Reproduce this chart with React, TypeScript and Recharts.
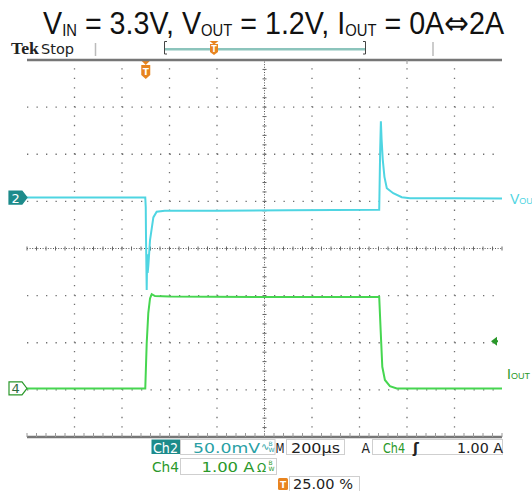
import { LineChart, Line, XAxis, YAxis, ReferenceLine } from "recharts"

// time in µs, trigger at t = 0 (25 % of the 2 ms record)
const timeDomain: [number, number] = [-500, 1500]
const gridTimes = [-300, -100, 100, 300, 700, 900, 1100, 1300]
const centerTime = 500
const gridDivs = [-3, -2, -1, 1, 2, 3]
const minorTimes = Array.from({ length: 51 }, (_, i) => -500 + i * 40)
const minorDivs = Array.from({ length: 41 }, (_, i) => -4 + i * 0.2)

// Ch2: Vout ripple (mV), 50 mV/div, ground marker 1.08 div above centre
const ch2PerDiv = 50
const ch2Pos = 1.08
const voutTime = [-500, -2, 0, 1, 4, 6, 8, 11, 18, 32, 46, 80, 300, 600, 983, 987, 990, 993, 998, 1005, 1015, 1042, 1078, 1113, 1300, 1500]
const voutMv = [0, 0, -10, -40, -98, -60, -80, -72, -45, -21, -15, -14, -14, -13.5, -13, 50, 81, 62, 40, 22, 10, 4.7, 0.4, -0.6, -0.8, -1]

// Ch4: Iout (A), 1 A/div, ground marker 2.97 div below centre
const ch4PerDiv = 1
const ch4Pos = -2.97
const ioutTime = [-500, -2, 4, 10.7, 18, 25, 39, 100, 500, 983, 989, 996, 1007, 1028, 1057, 1200, 1500]
const ioutAmp = [0, 0, 0.96, 1.6, 1.91, 2.0, 1.96, 1.95, 1.94, 1.94, 1.24, 0.46, 0.18, 0.05, 0, 0, 0]
const trigLevel = 1

const voutData = voutTime.map((t, i) => ({ t, v: voutMv[i] }))
const ioutData = ioutTime.map((t, i) => ({ t, a: ioutAmp[i] }))

const FRAME = "#767676"
const DOT = "#6f6f6f"
const CYAN = "#4fd5e2"
const GREEN = "#46d650"
const TEAL_BOX = "#1d8b8b"
const TEAL_TXT = "#2a9fa5"
const GREEN_TXT = "#2a982a"
const ORANGE = "#e8841f"
const MONO = "'DejaVu Sans', sans-serif"
const SANS = "'Liberation Sans', Arial, sans-serif"

const CrossLine = (p: any) => {
    const horiz = Math.abs(p.y1 - p.y2) < 0.5
    const n = horiz ? 50 : 40
    const a = horiz ? Math.min(p.x1, p.x2) : Math.min(p.y1, p.y2)
    const len = horiz ? Math.abs(p.x2 - p.x1) : Math.abs(p.y2 - p.y1)
    const ticks = Array.from({ length: n + 1 }, (_, i) => a + (i * len) / n)
    return (
        <g>
            <line x1={p.x1} y1={p.y1} x2={p.x2} y2={p.y2} stroke="#555" strokeDasharray="1 1.6" />
            {ticks.map((v, i) =>
                horiz ? (
                    <line key={i} x1={v} x2={v} y1={p.y1 - 2} y2={p.y1 + 2} stroke="#666" />
                ) : (
                    <line key={i} y1={v} y2={v} x1={p.x1 - 2} x2={p.x1 + 2} stroke="#666" />
                ),
            )}
        </g>
    )
}

const ChMarker = (p: any) => {
    const x = Math.min(p.x1, p.x2)
    const y = p.y1
    return (
        <g>
            <path
                d={`M${x - 18} ${y - 6.5} h13 l5 6.5 l-5 6.5 h-13 z`}
                fill={p.fill}
                stroke={p.edge}
                strokeWidth={1.2}
            />
            <text x={x - 15.5} y={y + 5} fontSize={13} fontFamily={MONO} fill={p.color}>
                {p.label}
            </text>
        </g>
    )
}

const TrigMark = (p: any) => {
    const x = p.x1
    const top = Math.min(p.y1, p.y2)
    return (
        <g>
            <path d={`M${x - 5} ${top} h10 l-5 5 z`} fill={ORANGE} />
            <path d={`M${x - 4.5} ${top + 5} h9 v10 l-4.5 4 l-4.5 -4 z`} fill={ORANGE} />
            <text x={x} y={top + 15} fontSize={9} fontWeight="bold" fontFamily={MONO} fill="#fff" textAnchor="middle">
                T
            </text>
        </g>
    )
}

const LevelArrow = (p: any) => {
    const x = Math.max(p.x1, p.x2)
    const y = p.y1
    return (
        <g>
            <path d={`M${x - 11} ${y} l6 -4.5 v9 z`} fill={GREEN_TXT} />
            <line x1={x - 6} x2={x - 4} y1={y} y2={y} stroke={GREEN_TXT} strokeWidth={2} />
        </g>
    )
}

const noLabel = () => ""

export default function App() {
    return (
        <div style={{ position: "absolute", left: 0, top: 0, width: 532, height: 491, background: "#fff" }}>
            <LineChart width={532} height={491} data={voutData} margin={{ top: 60, right: 30, bottom: 54, left: 27 }}>
                <XAxis
                    xAxisId="b"
                    dataKey="t"
                    type="number"
                    domain={timeDomain}
                    allowDataOverflow
                    ticks={minorTimes}
                    interval={0}
                    mirror
                    tickSize={4}
                    tickFormatter={noLabel}
                    axisLine={{ stroke: FRAME, strokeWidth: 2.5 }}
                    tickLine={{ stroke: "#999" }}
                />
                <XAxis
                    xAxisId="top"
                    orientation="top"
                    type="number"
                    domain={timeDomain}
                    allowDataOverflow
                    ticks={minorTimes}
                    interval={0}
                    mirror
                    tickSize={4}
                    tickFormatter={noLabel}
                    axisLine={{ stroke: FRAME, strokeWidth: 2.5 }}
                    tickLine={{ stroke: "#999" }}
                />
                <YAxis
                    yAxisId="fl"
                    type="number"
                    domain={[-4, 4]}
                    allowDataOverflow
                    ticks={minorDivs}
                    interval={0}
                    mirror
                    width={0}
                    tickSize={4}
                    tickFormatter={noLabel}
                    axisLine={{ stroke: FRAME, strokeWidth: 2.5 }}
                    tickLine={{ stroke: "#999" }}
                />
                <YAxis
                    yAxisId="fr"
                    orientation="right"
                    type="number"
                    domain={[-4, 4]}
                    allowDataOverflow
                    ticks={minorDivs}
                    interval={0}
                    mirror
                    width={0}
                    tickSize={4}
                    tickFormatter={noLabel}
                    axisLine={{ stroke: FRAME, strokeWidth: 2.5 }}
                    tickLine={{ stroke: "#999" }}
                />
                <YAxis
                    yAxisId="v"
                    hide
                    type="number"
                    allowDataOverflow
                    domain={[(-4 - ch2Pos) * ch2PerDiv, (4 - ch2Pos) * ch2PerDiv]}
                />
                <YAxis
                    yAxisId="i"
                    hide
                    type="number"
                    allowDataOverflow
                    domain={[(-4 - ch4Pos) * ch4PerDiv, (4 - ch4Pos) * ch4PerDiv]}
                />

                {/* graticule */}
                {gridTimes.map((t) => (
                    <ReferenceLine
                        key={`gx${t}`}
                        xAxisId="b"
                        yAxisId="fl"
                        x={t}
                        stroke={DOT}
                        strokeWidth={1.3}
                        strokeDasharray="1.3 8.12"
                    />
                ))}
                {gridDivs.map((d) => (
                    <ReferenceLine
                        key={`gy${d}`}
                        xAxisId="b"
                        yAxisId="fl"
                        y={d}
                        stroke={DOT}
                        strokeWidth={1.3}
                        strokeDasharray="1.3 8.2"
                    />
                ))}
                <ReferenceLine xAxisId="b" yAxisId="fl" x={centerTime} shape={CrossLine} />
                <ReferenceLine xAxisId="b" yAxisId="fl" y={0} shape={CrossLine} />

                <Line
                    xAxisId="b"
                    yAxisId="v"
                    data={voutData}
                    dataKey="v"
                    stroke={CYAN}
                    strokeWidth={2}
                    dot={false}
                    type="linear"
                    isAnimationActive={false}
                />
                <Line
                    xAxisId="b"
                    yAxisId="i"
                    data={ioutData}
                    dataKey="a"
                    stroke={GREEN}
                    strokeWidth={2}
                    dot={false}
                    type="linear"
                    isAnimationActive={false}
                />

                {/* channel ground markers, trigger marks */}
                <ReferenceLine
                    xAxisId="b"
                    yAxisId="v"
                    y={0}
                    shape={(p: any) => <ChMarker {...p} label="2" fill={TEAL_BOX} edge={TEAL_BOX} color="#fff" />}
                />
                <ReferenceLine
                    xAxisId="b"
                    yAxisId="i"
                    y={0}
                    shape={(p: any) => <ChMarker {...p} label="4" fill="#fff" edge={GREEN_TXT} color="#2f6b3f" />}
                />
                <ReferenceLine xAxisId="b" yAxisId="i" y={trigLevel} shape={LevelArrow} />
                <ReferenceLine xAxisId="b" yAxisId="fl" x={0} shape={TrigMark} />
            </LineChart>

            <svg width={532} height={491} style={{ position: "absolute", left: 0, top: 0, pointerEvents: "none" }}>
                <g transform="translate(43 34) scale(0.925 1)">
                    <text x={0} y={0} fontFamily={SANS} fontSize={31} fill="#111">
                        V<tspan fontSize={16} dy={2}>IN</tspan>
                        <tspan dy={-2}>{" = 3.3V, V"}</tspan>
                        <tspan fontSize={16} dy={2}>OUT</tspan>
                        <tspan dy={-2}>{" = 1.2V, I"}</tspan>
                        <tspan fontSize={16} dy={2}>OUT</tspan>
                        <tspan dy={-2}>{" = 0A"}</tspan>
                        <tspan fontFamily={MONO} fontSize={32}>⇔</tspan>
                        <tspan>2A</tspan>
                    </text>
                </g>

                {/* status bar */}
                <text x={11} y={54} fontFamily="'Liberation Serif', serif" fontWeight="bold" fontSize={17} fill="#222" textLength={28} lengthAdjust="spacingAndGlyphs">
                    Tek
                </text>
                <text x={41} y={54} fontFamily={MONO} fontSize={14} fill="#222" textLength={33} lengthAdjust="spacingAndGlyphs">
                    Stop
                </text>
                <line x1={95.5} x2={95.5} y1={43} y2={56} stroke="#bbb" strokeWidth={1.5} />
                <line x1={433} x2={433} y1={42} y2={56} stroke="#bbb" strokeWidth={1.5} />
                <line x1={165} x2={365} y1={49.3} y2={49.3} stroke="#8cc4bc" strokeWidth={2.5} />
                <path d="M167 41.5 H164.5 V54 H167" fill="none" stroke="#444" strokeWidth={1} />
                <path d="M363 41.5 H365.5 V54 H363" fill="none" stroke="#444" strokeWidth={1} />
                <path d="M209.5 41 h9 l-4.5 3.5 z" fill={ORANGE} />
                <path d="M210 44 h8 v8 l-4 3 l-4 -3 z" fill={ORANGE} />
                <text x={214} y={52} fontSize={8} fontWeight="bold" fontFamily={MONO} fill="#fff" textAnchor="middle">
                    T
                </text>

                {/* right side labels */}
                <text x={510} y={204} fontFamily={SANS} fill={CYAN}>
                    <tspan fontSize={14}>V</tspan>
                    <tspan fontSize={9}>OUT</tspan>
                </text>
                <text x={507} y={379} fontFamily={SANS} fill={GREEN_TXT}>
                    <tspan fontSize={14}>I</tspan>
                    <tspan fontSize={9}>OUT</tspan>
                </text>

                {/* readouts row 1 */}
                <rect x={151.5} y={439.5} width={28.5} height={14.5} fill={TEAL_BOX} />
                <text x={153} y={452.5} fontFamily={MONO} fontSize={14} fill="#fff" textLength={25} lengthAdjust="spacingAndGlyphs">
                    Ch2
                </text>
                <rect x={180.5} y={439.5} width={94.5} height={15} fill="none" stroke="#cfcfcf" />
                <text x={193} y={452.5} fontFamily={MONO} fontSize={14} fill={TEAL_TXT} textLength={67} lengthAdjust="spacingAndGlyphs">
                    50.0mV
                </text>
                <text x={261} y={450} fontFamily={MONO} fontSize={10} fill={TEAL_TXT}>
                    ∿
                </text>
                <text x={268.5} y={446} fontFamily={MONO} fontSize={6} fill={TEAL_TXT}>
                    B
                </text>
                <text x={268.5} y={452} fontFamily={MONO} fontSize={6} fill={TEAL_TXT}>
                    W
                </text>
                <text x={275.5} y={452.5} fontFamily={MONO} fontSize={14} fill="#222" textLength={9} lengthAdjust="spacingAndGlyphs">
                    M
                </text>
                <rect x={286.5} y={439.5} width={58} height={15} fill="none" stroke="#cfcfcf" />
                <text x={291} y={452.5} fontFamily={MONO} fontSize={14} fill="#222" textLength={49} lengthAdjust="spacingAndGlyphs">
                    200µs
                </text>
                <text x={361.5} y={452.5} fontFamily={MONO} fontSize={14} fill="#222" textLength={8.5} lengthAdjust="spacingAndGlyphs">
                    A
                </text>
                <rect x={372.5} y={439.5} width={130} height={15} fill="none" stroke="#cfcfcf" />
                <text x={383} y={452.5} fontFamily={MONO} fontSize={14} fill={GREEN_TXT} textLength={22} lengthAdjust="spacingAndGlyphs">
                    Ch4
                </text>
                <text x={413} y={452.5} fontFamily={MONO} fontSize={14} fontWeight="bold" fill="#222">
                    ʃ
                </text>
                <text x={457} y={452.5} fontFamily={MONO} fontSize={14} fill="#222" textLength={46} lengthAdjust="spacingAndGlyphs">
                    1.00 A
                </text>

                {/* readouts row 2 */}
                <text x={152} y={471.5} fontFamily={MONO} fontSize={14} fill={GREEN_TXT} textLength={27} lengthAdjust="spacingAndGlyphs">
                    Ch4
                </text>
                <rect x={180.5} y={458.5} width={96} height={16} fill="none" stroke="#cfcfcf" />
                <text x={201.5} y={471.5} fontFamily={MONO} fontSize={14} fill={GREEN_TXT} textLength={53} lengthAdjust="spacingAndGlyphs">
                    1.00 A
                </text>
                <text x={257} y={471.5} fontFamily={MONO} fontSize={12} fill={GREEN_TXT}>
                    Ω
                </text>
                <text x={268.5} y={465} fontFamily={MONO} fontSize={6} fill={GREEN_TXT}>
                    B
                </text>
                <text x={268.5} y={471} fontFamily={MONO} fontSize={6} fill={GREEN_TXT}>
                    W
                </text>

                {/* readouts row 3 */}
                <rect x={278} y={478} width={10} height={12} rx={1.5} fill={ORANGE} />
                <text x={283} y={488} fontSize={9} fontWeight="bold" fontFamily={MONO} fill="#fff" textAnchor="middle">
                    T
                </text>
                <rect x={289.5} y={476.5} width={70} height={15} fill="none" stroke="#cfcfcf" />
                <text x={293} y={489} fontFamily={MONO} fontSize={14} fill="#222" textLength={60} lengthAdjust="spacingAndGlyphs">
                    25.00 %
                </text>
            </svg>
        </div>
    )
}
